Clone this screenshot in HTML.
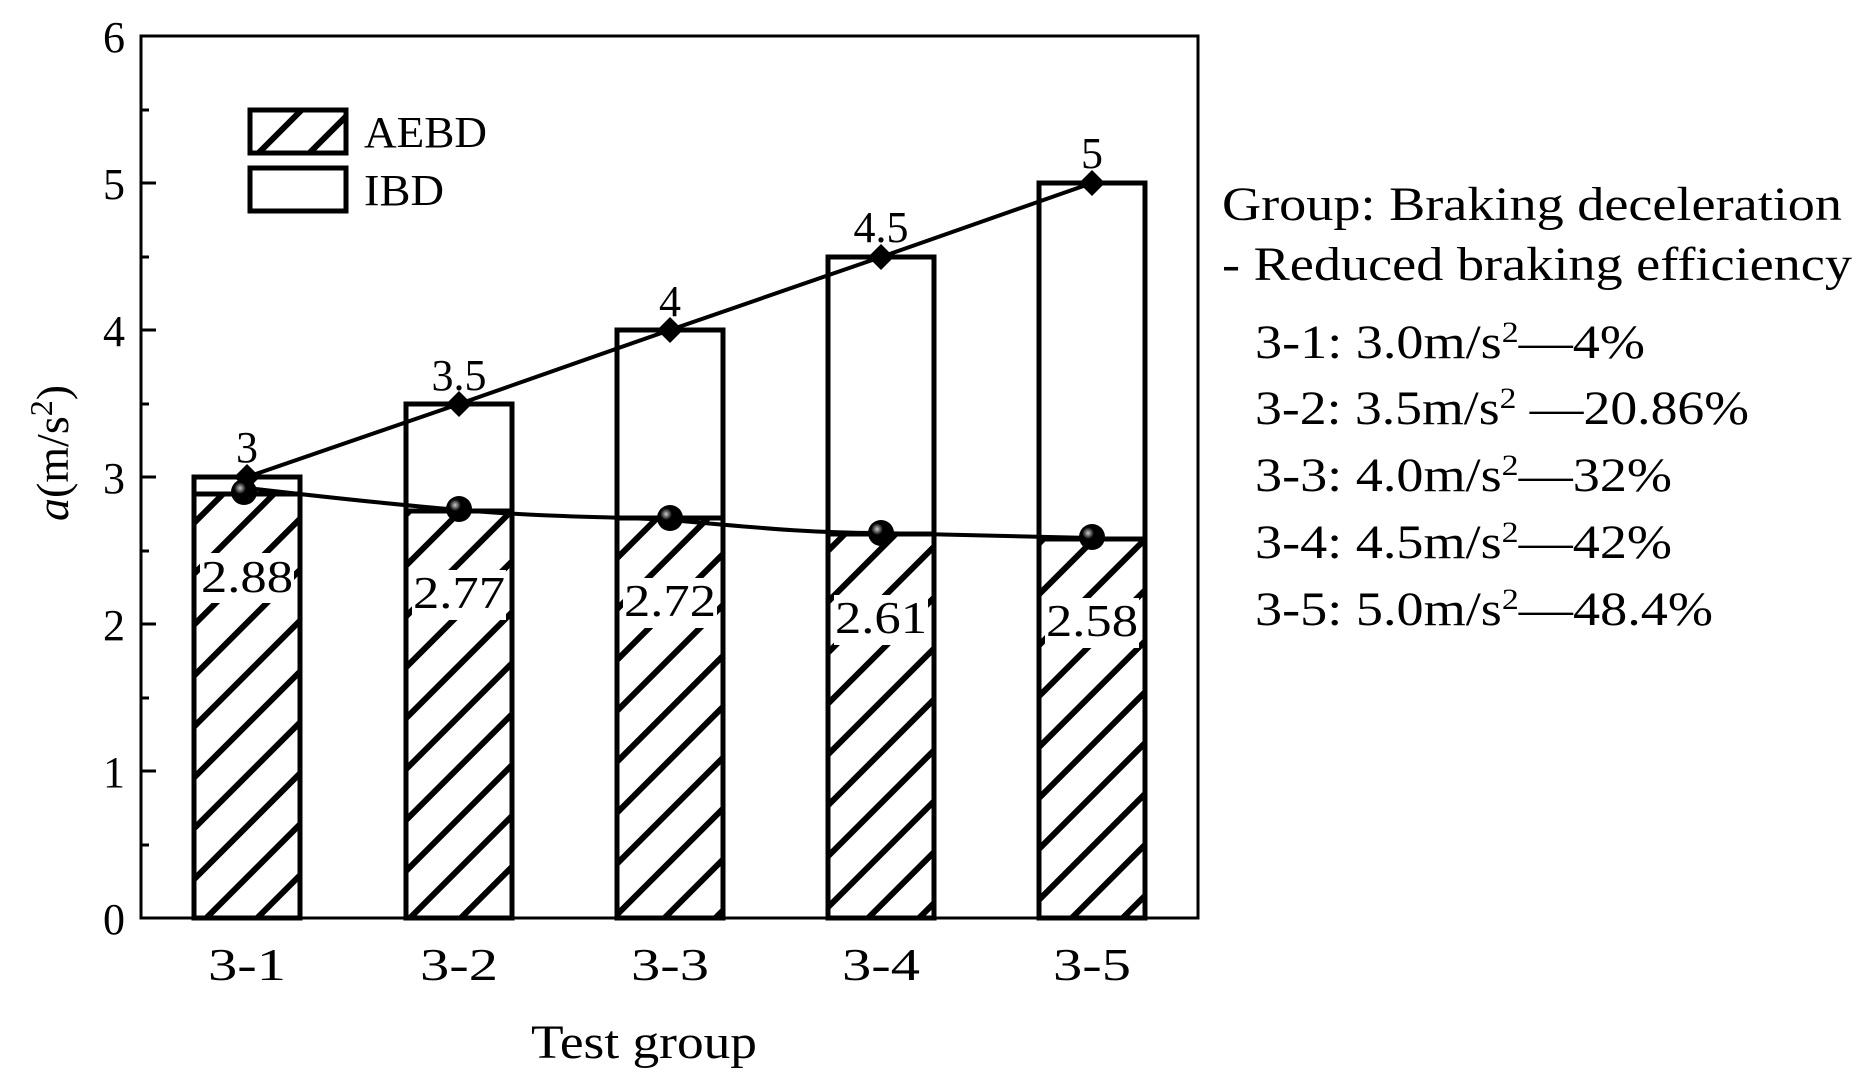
<!DOCTYPE html>
<html><head><meta charset="utf-8"><style>html,body{margin:0;padding:0;background:#fff}</style></head>
<body>
<svg width="1863" height="1080" viewBox="0 0 1863 1080" xmlns="http://www.w3.org/2000/svg" font-family="Liberation Serif, serif">
<defs>
<pattern id="h" patternUnits="userSpaceOnUse" width="36" height="36" patternTransform="rotate(45)">
<rect width="36" height="36" fill="#fff"/>
<line x1="0" y1="0" x2="0" y2="36" stroke="#000" stroke-width="12"/>
</pattern>
<radialGradient id="ball" cx="35%" cy="35%" r="65%"><stop offset="0" stop-color="#ccc"/><stop offset="0.35" stop-color="#000"/><stop offset="1" stop-color="#000"/></radialGradient>
</defs>
<rect x="141" y="36" width="1057" height="882" fill="none" stroke="#000" stroke-width="3"/>
<g stroke="#000" stroke-width="3">
<line x1="141" y1="771" x2="156" y2="771"/><line x1="141" y1="624" x2="156" y2="624"/><line x1="141" y1="477" x2="156" y2="477"/><line x1="141" y1="330" x2="156" y2="330"/><line x1="141" y1="183" x2="156" y2="183"/>
<line x1="141" y1="845" x2="149" y2="845"/><line x1="141" y1="698" x2="149" y2="698"/><line x1="141" y1="551" x2="149" y2="551"/><line x1="141" y1="404" x2="149" y2="404"/><line x1="141" y1="257" x2="149" y2="257"/><line x1="141" y1="110" x2="149" y2="110"/>
</g>
<g font-size="44" text-anchor="end">
<text x="125" y="934">0</text><text x="125" y="787">1</text><text x="125" y="640">2</text><text x="125" y="493">3</text><text x="125" y="346">4</text><text x="125" y="199">5</text><text x="125" y="52">6</text>
</g>
<text transform="translate(68,453) rotate(-90)" font-size="46" text-anchor="middle"><tspan font-style="italic">a</tspan>(m/s<tspan dy="-16" font-size="32">2</tspan><tspan dy="16">)</tspan></text>
<g stroke="#000" stroke-width="5">
<rect x="194" y="477" width="106" height="441" fill="#fff"/>
<rect x="194" y="494" width="106" height="424" fill="url(#h)"/>
<rect x="406" y="404" width="106" height="514" fill="#fff"/>
<rect x="406" y="511" width="106" height="407" fill="url(#h)"/>
<rect x="617" y="330" width="106" height="588" fill="#fff"/>
<rect x="617" y="518" width="106" height="400" fill="url(#h)"/>
<rect x="828" y="257" width="106" height="661" fill="#fff"/>
<rect x="828" y="534" width="106" height="384" fill="url(#h)"/>
<rect x="1039" y="183" width="106" height="735" fill="#fff"/>
<rect x="1039" y="539" width="106" height="379" fill="url(#h)"/>
</g>
<g font-size="46" text-anchor="middle">
<rect x="200" y="553" width="94" height="50" fill="#fff"/><text x="247" y="592" textLength="92" lengthAdjust="spacingAndGlyphs">2.88</text>
<rect x="412" y="570" width="94" height="50" fill="#fff"/><text x="459" y="608" textLength="92" lengthAdjust="spacingAndGlyphs">2.77</text>
<rect x="623" y="578" width="94" height="50" fill="#fff"/><text x="670" y="616" textLength="92" lengthAdjust="spacingAndGlyphs">2.72</text>
<rect x="834" y="595" width="94" height="50" fill="#fff"/><text x="881" y="633" textLength="92" lengthAdjust="spacingAndGlyphs">2.61</text>
<rect x="1045" y="598" width="94" height="50" fill="#fff"/><text x="1092" y="636" textLength="92" lengthAdjust="spacingAndGlyphs">2.58</text>
</g>
<polyline points="247,477 459,404 670,330 881,257 1092,183" fill="none" stroke="#000" stroke-width="4"/>
<path d="M247,488 C350,500 400,505 459,510 C560,518 600,516 670,520 C780,530 820,533 881,533 C980,535 1040,537 1092,538" fill="none" stroke="#000" stroke-width="4"/>
<g fill="#000">
<polygon points="247,464 260,477 247,490 234,477"/><polygon points="459,391 472,404 459,417 446,404"/><polygon points="670,317 683,330 670,343 657,330"/><polygon points="881,244 894,257 881,270 868,257"/><polygon points="1092,170 1105,183 1092,196 1079,183"/>
</g>
<g fill="url(#ball)">
<circle cx="244" cy="492" r="13"/><circle cx="459" cy="509" r="13"/><circle cx="670" cy="518" r="13"/><circle cx="881" cy="533" r="13"/><circle cx="1092" cy="537" r="13"/>
</g>
<g font-size="44" text-anchor="middle">
<text x="247" y="462">3</text><text x="459" y="390">3.5</text><text x="670" y="316">4</text><text x="881" y="242">4.5</text><text x="1092" y="168">5</text>
</g>
<g stroke="#000" stroke-width="5">
<rect x="250" y="110" width="96" height="43" fill="url(#h)"/>
<rect x="250" y="168" width="96" height="43" fill="#fff"/>
</g>
<g font-size="44"><text x="364" y="147" textLength="123" lengthAdjust="spacingAndGlyphs">AEBD</text><text x="364" y="205" textLength="80" lengthAdjust="spacingAndGlyphs">IBD</text></g>
<g font-size="46" text-anchor="middle">
<text x="247" y="980" textLength="78" lengthAdjust="spacingAndGlyphs">3-1</text><text x="459" y="980" textLength="78" lengthAdjust="spacingAndGlyphs">3-2</text><text x="670" y="980" textLength="78" lengthAdjust="spacingAndGlyphs">3-3</text><text x="881" y="980" textLength="78" lengthAdjust="spacingAndGlyphs">3-4</text><text x="1092" y="980" textLength="78" lengthAdjust="spacingAndGlyphs">3-5</text>
<text x="644" y="1058" font-size="48" textLength="226" lengthAdjust="spacingAndGlyphs">Test group</text>
</g>
<g font-size="48">
<text x="1222" y="220" textLength="620" lengthAdjust="spacingAndGlyphs">Group: Braking deceleration</text>
<text x="1222" y="280" textLength="630" lengthAdjust="spacingAndGlyphs">- Reduced braking efficiency</text>
<text x="1255" y="358" textLength="390" lengthAdjust="spacingAndGlyphs">3-1: 3.0m/s<tspan dy="-16" font-size="30">2</tspan><tspan dy="16">—4%</tspan></text>
<text x="1255" y="424" textLength="494" lengthAdjust="spacingAndGlyphs">3-2: 3.5m/s<tspan dy="-16" font-size="30">2</tspan><tspan dy="16"> —20.86%</tspan></text>
<text x="1255" y="491" textLength="417" lengthAdjust="spacingAndGlyphs">3-3: 4.0m/s<tspan dy="-16" font-size="30">2</tspan><tspan dy="16">—32%</tspan></text>
<text x="1255" y="558" textLength="417" lengthAdjust="spacingAndGlyphs">3-4: 4.5m/s<tspan dy="-16" font-size="30">2</tspan><tspan dy="16">—42%</tspan></text>
<text x="1255" y="625" textLength="458" lengthAdjust="spacingAndGlyphs">3-5: 5.0m/s<tspan dy="-16" font-size="30">2</tspan><tspan dy="16">—48.4%</tspan></text>
</g>
</svg>
</body></html>
